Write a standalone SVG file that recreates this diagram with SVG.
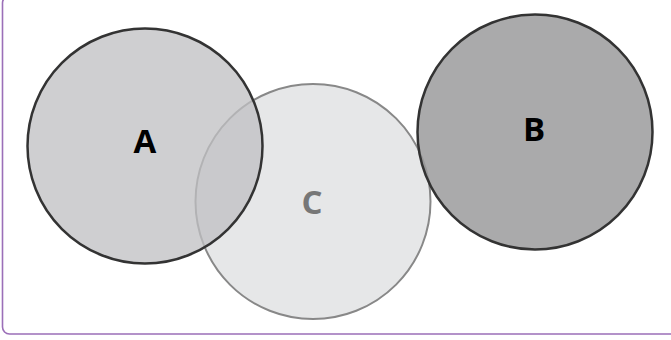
<svg xmlns="http://www.w3.org/2000/svg" width="671" height="340" viewBox="0 0 671 340">
<style>
.lbl{font-family:"Open Sans","Liberation Sans",sans-serif;font-weight:bold;font-size:33px;text-anchor:middle}
</style>
<rect x="0" y="0" width="671" height="340" fill="#ffffff"/>
<rect x="2.5" y="-4" width="700" height="338" rx="7" ry="7" fill="none" stroke="#9b6fb8" stroke-width="1.6"/>
<g id="nodeC">
<circle cx="313" cy="201.5" r="117.5" fill="#e6e7e8" stroke="#888888" stroke-width="2"/>
<text class="lbl" x="312" y="214" fill="#777777">C</text>
</g>
<g id="nodeA">
<circle cx="145" cy="146" r="117.5" fill="#c0c0c2" fill-opacity="0.76" stroke="#333333" stroke-width="2.5"/>
<text class="lbl" x="145" y="153" fill="#000000">A</text>
</g>
<g id="nodeB">
<circle cx="535" cy="132" r="117.5" fill="#9b9b9c" fill-opacity="0.85" stroke="#333333" stroke-width="2.5"/>
<text class="lbl" x="534" y="141" fill="#000000">B</text>
</g>
<g id="connectors"></g>
</svg>
